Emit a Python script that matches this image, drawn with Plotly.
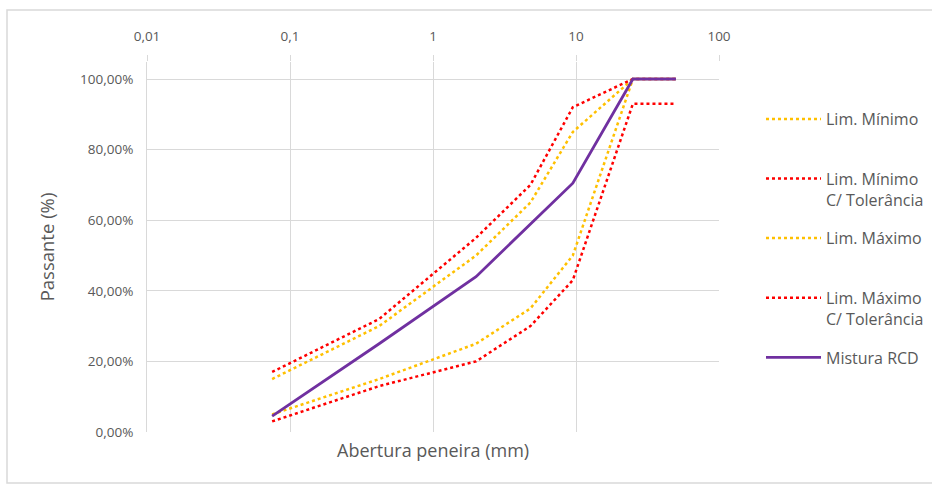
import plotly.graph_objects as go

# Sieve openings (mm)
sieves = [0.075, 0.42, 2.0, 4.8, 9.5, 25.0, 50.0]

lim_min = [5, 15, 25, 35, 50, 100, 100]
lim_min_tol = [3, 13, 20, 30, 43, 93, 93]
lim_max = [15, 30, 50, 65, 85, 100, 100]
lim_max_tol = [17, 32, 55, 70, 92, 100, 100]
mistura = [4.5, 25, 44, 59, 70.5, 100, 100]

x_tickvals = [0.01, 0.1, 1, 10, 100]
x_ticktext = ["0,01", "0,1", "1", "10", "100"]
y_tickvals = [0, 0.2, 0.4, 0.6, 0.8, 1.0]
y_ticktext = ["0,00%", "20,00%", "40,00%", "60,00%", "80,00%", "100,00%"]

YELLOW = "#FFC000"
RED = "#FF0000"
PURPLE = "#7030A0"
FONT = "Open Sans"
TXT = "#595959"
GRID = "#d9d9d9"
NB = "\u00a0"

W, H = 932, 485
L, R, T, B = 147, W - 719, 62, H - 432
pw, ph = W - L - R, H - T - B

fig = go.Figure()

def add(name, vals, color, dash, width):
    fig.add_trace(go.Scatter(
        x=sieves, y=[v / 100 for v in vals], mode="lines", name=name,
        line=dict(color=color, dash=dash, width=width),
        legendgroup=name,
    ))

add("Lim. Mínimo<br>" + NB, lim_min, YELLOW, "dot", 2.5)
add("Lim. Mínimo<br>C/ Tolerância", lim_min_tol, RED, "dot", 2.5)
add("Lim. Máximo<br>" + NB, lim_max, YELLOW, "dot", 2.5)
add("Lim. Máximo<br>C/ Tolerância", lim_max_tol, RED, "dot", 2.5)
add("Mistura RCD<br>" + NB, mistura, PURPLE, "solid", 2.8)

ytop = ph / 353.0

fig.update_layout(
    width=W, height=H,
    margin=dict(l=L, r=R, t=T, b=B, autoexpand=False),
    paper_bgcolor="white", plot_bgcolor="white",
    font=dict(family=FONT, size=13, color=TXT),
    xaxis=dict(
        type="log", range=[-2, 2], side="top",
        tickvals=x_tickvals, ticktext=x_ticktext,
        showgrid=False, zeroline=False, showline=False,
        ticks="outside", ticklen=6, tickcolor=GRID, ticklabelstandoff=9,
        tickfont=dict(size=13.5, color=TXT),
        title=None,
    ),
    xaxis2=dict(
        type="log", range=[-2, 2], overlaying="x", side="bottom",
        tickvals=[0.1, 1, 10], showticklabels=False, showgrid=True,
        gridcolor=GRID, gridwidth=1, zeroline=False, showline=False,
    ),
    yaxis=dict(
        range=[0, ytop], tickvals=y_tickvals, ticktext=y_ticktext,
        showgrid=True, gridcolor=GRID, gridwidth=1, zeroline=False,
        showline=True, linecolor=GRID, linewidth=1,
        ticks="", ticklabelstandoff=10,
        tickfont=dict(size=13.5, color=TXT),
        title=dict(text="Passante (%)", font=dict(size=18.5, color=TXT), standoff=20),
    ),
    legend=dict(
        x=(761 - L) / pw, y=(432 - 102) / ph, xanchor="left", yanchor="top",
        font=dict(size=16, color=TXT), itemwidth=55, valign="top",
        tracegroupgap=15, bgcolor="rgba(0,0,0,0)",
    ),
    showlegend=True,
)

# dummy trace to activate xaxis2 gridlines
fig.add_trace(go.Scatter(x=[1], y=[None], xaxis="x2", showlegend=False, hoverinfo="skip"))

fig.add_annotation(
    text="Abertura peneira (mm)", xref="paper", yref="paper",
    x=0.5, y=(432 - 450) / ph, showarrow=False, xanchor="center", yanchor="middle",
    font=dict(size=18, color=TXT),
)

fig.add_shape(
    type="rect", xref="paper", yref="paper",
    x0=(7 - L) / pw, x1=(940 - L) / pw,
    y0=(432 - 483) / ph, y1=(432 - 10) / ph,
    line=dict(color=GRID, width=1.5), fillcolor="rgba(0,0,0,0)", layer="below",
)

fig.write_html("out.html")
